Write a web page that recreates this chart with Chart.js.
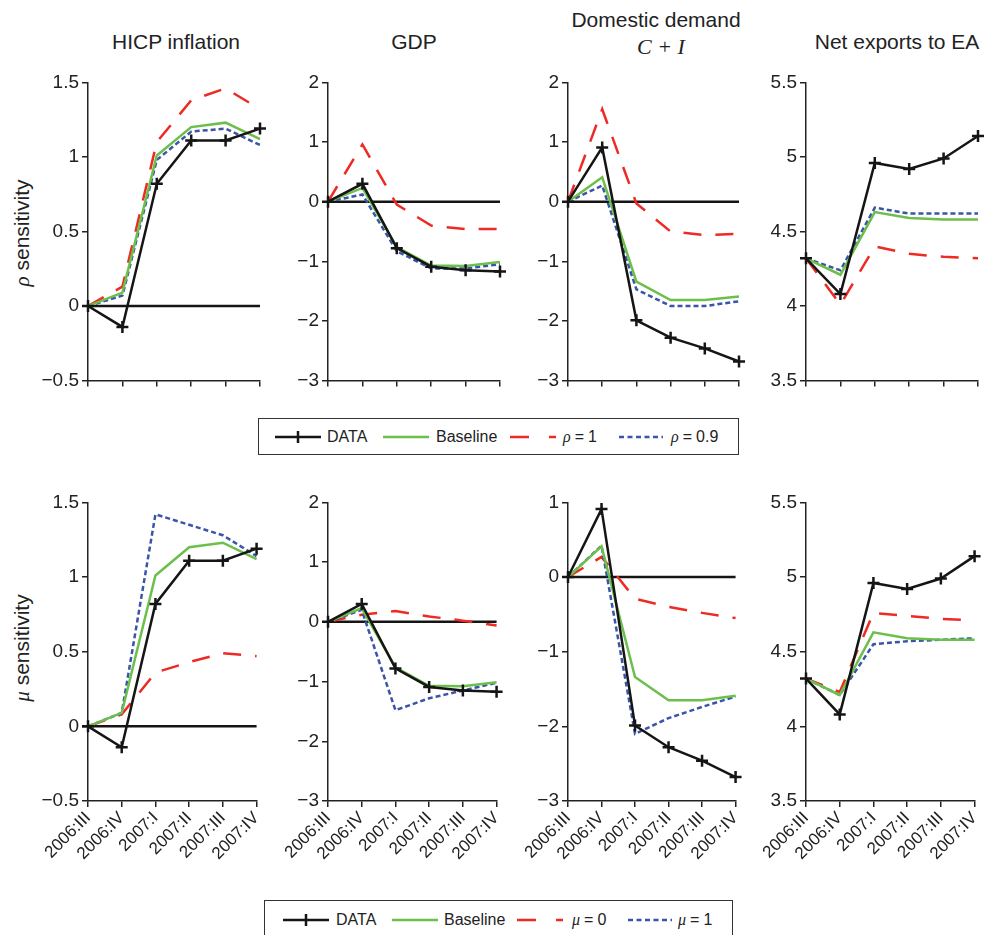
<!DOCTYPE html>
<html>
<head>
<meta charset="utf-8">
<script src="https://cdn.jsdelivr.net/npm/chart.js@4.4.1/dist/chart.umd.min.js"></script>
<style>
  html, body { margin: 0; padding: 0; background: #fff; }
  #wrap { position: relative; width: 986px; height: 935px; overflow: hidden; font-family: "Liberation Sans", Arial, sans-serif; color: #222; }
  canvas { position: absolute; }
  .ttl { position: absolute; font-size: 21px; white-space: nowrap; transform: translate(-50%, -50%); }
  .math { font-family: "Liberation Serif", "DejaVu Serif", serif; font-style: italic; }
  .ttl.math { font-size: 22px; }
  .ytl { position: absolute; font-size: 21px; white-space: nowrap; transform: translate(-50%, -50%) rotate(-90deg); }
  .legend { position: absolute; border: 1.5px solid #333; box-sizing: border-box; }
  .lt { position: absolute; font-size: 16px; white-space: nowrap; transform: translateY(-50%); }
  .lt .eq { margin: 0 4px; }
  svg.ls { position: absolute; overflow: visible; }
</style>
</head>
<body>
<div id="wrap">
  <div class="ttl" style="left:176px; top:42px;">HICP inflation</div>
  <div class="ttl" style="left:414px; top:42px;">GDP</div>
  <div class="ttl" style="left:656px; top:20px;">Domestic demand</div>
  <div class="ttl math" style="left:661px; top:47px;">C + I</div>
  <div class="ttl" style="left:897px; top:42px;">Net exports to EA</div>
  <div class="ytl" style="left:22px; top:233px;"><span class="math">ρ</span> sensitivity</div>
  <div class="ytl" style="left:22px; top:648px;"><span class="math">μ</span> sensitivity</div>

  <div class="legend" style="left:258px; top:418px; width:481px; height:37px;"></div>
  <div class="legend" style="left:264px; top:900px; width:469px; height:50px;"></div>
</div>
<script>
// ---------- data ----------
const quarters = ['2006:III', '2006:IV', '2007:I', '2007:II', '2007:III', '2007:IV'];

const hicpData     = [0, -0.14, 0.82, 1.11, 1.11, 1.19];
const hicpBaseline = [0, 0.09, 1.01, 1.20, 1.23, 1.12];
const hicpRho1     = [0, 0.13, 1.10, 1.38, 1.46, 1.32];
const hicpRho09    = [0, 0.07, 0.98, 1.17, 1.19, 1.08];
const hicpMu0      = [0, 0.08, 0.36, 0.43, 0.49, 0.47];
const hicpMu1      = [0, 0.09, 1.42, 1.35, 1.28, 1.14];

const gdpData      = [0, 0.30, -0.78, -1.09, -1.15, -1.17];
const gdpBaseline  = [0, 0.23, -0.76, -1.07, -1.08, -1.01];
const gdpRho1      = [0, 0.96, -0.05, -0.40, -0.46, -0.46];
const gdpRho09     = [0, 0.12, -0.83, -1.12, -1.12, -1.05];
const gdpMu0       = [0, 0.12, 0.18, 0.09, 0.02, -0.06];
const gdpMu1       = [0, 0.20, -1.48, -1.28, -1.15, -1.02];

const ddData       = [0, 0.91, -1.99, -2.28, -2.46, -2.68];
const ddBaseline   = [0, 0.41, -1.34, -1.65, -1.65, -1.59];
const ddRho1       = [0, 1.55, -0.03, -0.50, -0.56, -0.54];
const ddRho09      = [0, 0.27, -1.47, -1.75, -1.75, -1.67];
const ddMu0        = [0, 0.27, -0.29, -0.40, -0.48, -0.55];
const ddMu1        = [0, 0.42, -2.10, -1.89, -1.74, -1.60];

const nxData       = [4.32, 4.08, 4.96, 4.92, 4.99, 5.14];
const nxBaseline   = [4.32, 4.21, 4.63, 4.59, 4.58, 4.58];
const nxRho1       = [4.32, 4.01, 4.40, 4.35, 4.33, 4.32];
const nxRho09      = [4.32, 4.24, 4.66, 4.62, 4.62, 4.62];
const nxMu0        = [4.32, 4.23, 4.76, 4.74, 4.72, 4.71];
const nxMu1        = [4.32, 4.21, 4.55, 4.57, 4.58, 4.59];

const zeroLine     = [0, 0, 0, 0, 0, 0];

const legendRho = ['DATA', 'Baseline', 'ρ = 1', 'ρ = 0.9'];
const legendMu  = ['DATA', 'Baseline', 'μ = 0', 'μ = 1'];

// ---------- styles ----------
const C_DATA = '#151515', C_BASE = '#6cbf4a', C_RED = '#ee2a24', C_BLUE = '#3a55a8';
const cols = [{l: 88, r: 260}, {l: 328, r: 500}, {l: 568, r: 739}, {l: 806, r: 978}];
const rows = [{t: 80, b: 383}, {t: 500, b: 801}];
const WY = 62, PR = 12, PT = 12;
const FONT = '"Liberation Sans", Arial, sans-serif';

const panels = [
  {row: 0, col: 0, data: hicpData, base: hicpBaseline, a: hicpRho1, b: hicpRho09, min: -0.5, max: 1.5, step: 0.5, zero: true},
  {row: 0, col: 1, data: gdpData,  base: gdpBaseline,  a: gdpRho1,  b: gdpRho09,  min: -3, max: 2, step: 1, zero: true},
  {row: 0, col: 2, data: ddData,   base: ddBaseline,   a: ddRho1,   b: ddRho09,   min: -3, max: 2, step: 1, zero: true},
  {row: 0, col: 3, data: nxData,   base: nxBaseline,   a: nxRho1,   b: nxRho09,   min: 3.5, max: 5.5, step: 0.5, zero: false},
  {row: 1, col: 0, data: hicpData, base: hicpBaseline, a: hicpMu0,  b: hicpMu1,   min: -0.5, max: 1.5, step: 0.5, zero: true},
  {row: 1, col: 1, data: gdpData,  base: gdpBaseline,  a: gdpMu0,   b: gdpMu1,    min: -3, max: 2, step: 1, zero: true},
  {row: 1, col: 2, data: ddData,   base: ddBaseline,   a: ddMu0,    b: ddMu1,     min: -3, max: 1, step: 1, zero: true},
  {row: 1, col: 3, data: nxData,   base: nxBaseline,   a: nxMu0,    b: nxMu1,     min: 3.5, max: 5.5, step: 0.5, zero: false}
];

const wrap = document.getElementById('wrap');

panels.forEach(p => {
  const c = cols[p.col], r = rows[p.row];
  const HX = p.row === 1 ? 80 : 12;
  const cv = document.createElement('canvas');
  const w = WY + (c.r - c.l) + PR, h = PT + (r.b - r.t) + HX;
  cv.width = w; cv.height = h;
  cv.style.left = (c.l - WY) + 'px';
  cv.style.top = (r.t - PT) + 'px';
  cv.style.width = w + 'px'; cv.style.height = h + 'px';
  wrap.appendChild(cv);

  const ds = [
    {data: p.data, borderColor: C_DATA, borderWidth: 2.5, pointStyle: 'cross', pointRadius: 6,
     pointBorderWidth: 2.5, pointBorderColor: C_DATA, pointHoverRadius: 6},
    {data: p.base, borderColor: C_BASE, borderWidth: 2.5, pointRadius: 0},
    {data: p.b, borderColor: C_BLUE, borderWidth: 2.5, borderDash: [5, 3], pointRadius: 0},
    {data: p.a, borderColor: C_RED, borderWidth: 2.5, borderDash: [18, 14], pointRadius: 0}
  ];
  if (p.zero) ds.push({data: zeroLine, borderColor: C_DATA, borderWidth: 2.5, pointRadius: 0});
  ds.forEach(d => { d.fill = false; d.tension = 0; d.clip = false; d.borderCapStyle = 'butt'; });

  new Chart(cv, {
    type: 'line',
    data: {labels: quarters, datasets: ds},
    options: {
      responsive: false, animation: false, devicePixelRatio: 1,
      layout: {autoPadding: false, padding: {top: PT, right: PR, left: 0, bottom: 0}},
      plugins: {legend: {display: false}, tooltip: {enabled: false}},
      scales: {
        x: {
          type: 'category', offset: false,
          grid: {display: true, drawOnChartArea: false, drawTicks: true, tickLength: 6, color: '#222', lineWidth: 1.5},
          border: {display: true, color: '#222', width: 1.5},
          ticks: {display: p.row === 1, autoSkip: false, minRotation: 45, maxRotation: 45, padding: 1,
                  color: '#222', font: {family: FONT, size: 17}},
          afterFit: s => { s.height = HX; }
        },
        y: {
          min: p.min, max: p.max,
          grid: {display: true, drawOnChartArea: false, drawTicks: true, tickLength: 6, color: '#222', lineWidth: 1.5},
          border: {display: true, color: '#222', width: 1.5},
          ticks: {stepSize: p.step, padding: 3, color: '#222',
                  font: {family: FONT, size: 19},
                  callback: v => String(Number(v.toFixed(2))).replace('-', '−')},
          afterFit: s => { s.width = WY; }
        }
      }
    }
  });
});

// ---------- legends ----------
function addLegend(labels, y, pos) {
  const svgNS = 'http://www.w3.org/2000/svg';
  function sample(x, len, color, dash, cross) {
    const s = document.createElementNS(svgNS, 'svg');
    s.setAttribute('class', 'ls');
    s.setAttribute('width', len); s.setAttribute('height', 14);
    s.style.left = x + 'px'; s.style.top = (y - 7) + 'px';
    const l = document.createElementNS(svgNS, 'line');
    l.setAttribute('x1', 0); l.setAttribute('x2', len); l.setAttribute('y1', 7); l.setAttribute('y2', 7);
    l.setAttribute('stroke', color); l.setAttribute('stroke-width', 2.5);
    if (dash) l.setAttribute('stroke-dasharray', dash);
    s.appendChild(l);
    if (cross) {
      const v = document.createElementNS(svgNS, 'line');
      v.setAttribute('x1', len / 2); v.setAttribute('x2', len / 2); v.setAttribute('y1', 1); v.setAttribute('y2', 13);
      v.setAttribute('stroke', color); v.setAttribute('stroke-width', 2.5);
      s.appendChild(v);
    }
    wrap.appendChild(s);
  }
  function text(x, t) {
    const d = document.createElement('div');
    d.className = 'lt';
    d.style.left = x + 'px'; d.style.top = y + 'px';
    const m = t.match(/^([ρμ]) = (.*)$/);
    if (m) {
      const sp = document.createElement('span'); sp.className = 'math'; sp.textContent = m[1];
      const eq = document.createElement('span'); eq.className = 'eq'; eq.textContent = '=';
      d.appendChild(sp); d.appendChild(eq); d.appendChild(document.createTextNode(m[2]));
    } else d.textContent = t;
    wrap.appendChild(d);
  }
  sample(pos[0], 46, C_DATA, null, true); text(pos[1], labels[0]);
  sample(pos[2], 46, C_BASE, null, false); text(pos[3], labels[1]);
  sample(pos[4], 46, C_RED, '19 20', false); text(pos[5], labels[2]);
  sample(pos[6], 44, C_BLUE, '5 3.5', false); text(pos[7], labels[3]);
}
addLegend(legendRho, 437, [275, 327, 383, 436, 510, 563, 619, 671]);
addLegend(legendMu, 920, [283, 336, 392, 444, 517, 572, 628, 678]);
</script>
</body>
</html>
